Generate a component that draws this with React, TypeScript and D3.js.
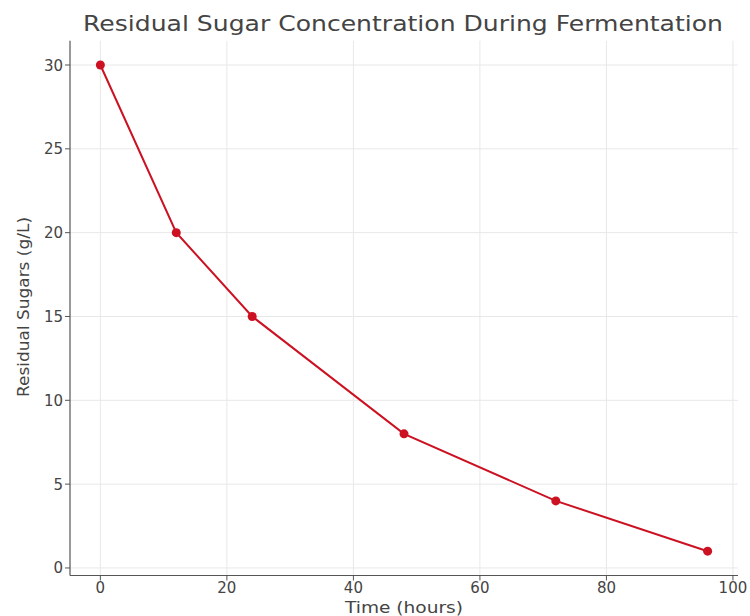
import React from "react";
import * as d3 from "d3";

const timeHours = [0, 12, 24, 48, 72, 96];
const residualSugars = [30, 20, 15, 8, 4, 1];
const xTicks = [0, 20, 40, 60, 80, 100];
const yTicks = [0, 5, 10, 15, 20, 25, 30];

const W = 750;
const H = 616;
const left = 70;
const right = 738;
const top = 40.7;
const bottom = 575.5;

export default function App() {
  const x = d3.scaleLinear().domain([-4.8, 100.8]).range([left, right]);
  const y = d3.scaleLinear().domain([-0.45, 31.45]).range([bottom, top]);
  const pts = timeHours.map((t, i) => [t, residualSugars[i]] as [number, number]);
  const line = d3.line<[number, number]>().x((d) => x(d[0])).y((d) => y(d[1]));
  const font = "DejaVu Sans, sans-serif";
  const txt = "#444";
  return (
    <svg width={W} height={H} style={{ position: "absolute", left: 0, top: 0, background: "#fff" }}>
      <rect width={W} height={H} fill="#fff" />
      {xTicks.map((t) => (
        <line key={"gx" + t} x1={x(t)} x2={x(t)} y1={top} y2={bottom} stroke="#e8e8e8" strokeWidth={1} />
      ))}
      {yTicks.map((t) => (
        <line key={"gy" + t} x1={left} x2={right} y1={y(t)} y2={y(t)} stroke="#e8e8e8" strokeWidth={1} />
      ))}
      <line x1={left} x2={left} y1={top} y2={bottom} stroke="#555" strokeWidth={1.2} />
      <line x1={left} x2={right} y1={bottom} y2={bottom} stroke="#555" strokeWidth={1.2} />
      {xTicks.map((t) => (
        <g key={"xt" + t}>
          <line x1={x(t)} x2={x(t)} y1={bottom} y2={bottom + 5} stroke="#555" strokeWidth={1} />
          <text x={x(t)} y={bottom + 17} textAnchor="middle" fontFamily={font} fontSize={15} fill={txt}>
            {t}
          </text>
        </g>
      ))}
      {yTicks.map((t) => (
        <g key={"yt" + t}>
          <line x1={left - 5} x2={left} y1={y(t)} y2={y(t)} stroke="#555" strokeWidth={1} />
          <text x={left - 7} y={y(t) + 5.5} textAnchor="end" fontFamily={font} fontSize={15} fill={txt}>
            {t}
          </text>
        </g>
      ))}
      <path d={line(pts) || ""} fill="none" stroke="#cc1122" strokeWidth={2} />
      {pts.map((p, i) => (
        <circle key={"p" + i} cx={x(p[0])} cy={y(p[1])} r={4.5} fill="#cc1122" />
      ))}
      <text x={403} y={31} textAnchor="middle" fontFamily={font} fontSize={21} fill={txt} textLength={640} lengthAdjust="spacingAndGlyphs">
        Residual Sugar Concentration During Fermentation
      </text>
      <text x={404} y={613} textAnchor="middle" fontFamily={font} fontSize={16} fill={txt} textLength={118} lengthAdjust="spacingAndGlyphs">
        Time (hours)
      </text>
      <text transform={`translate(29,307) rotate(-90)`} textAnchor="middle" fontFamily={font} fontSize={15} fill={txt} textLength={180} lengthAdjust="spacingAndGlyphs">
        Residual Sugars (g/L)
      </text>
    </svg>
  );
}
